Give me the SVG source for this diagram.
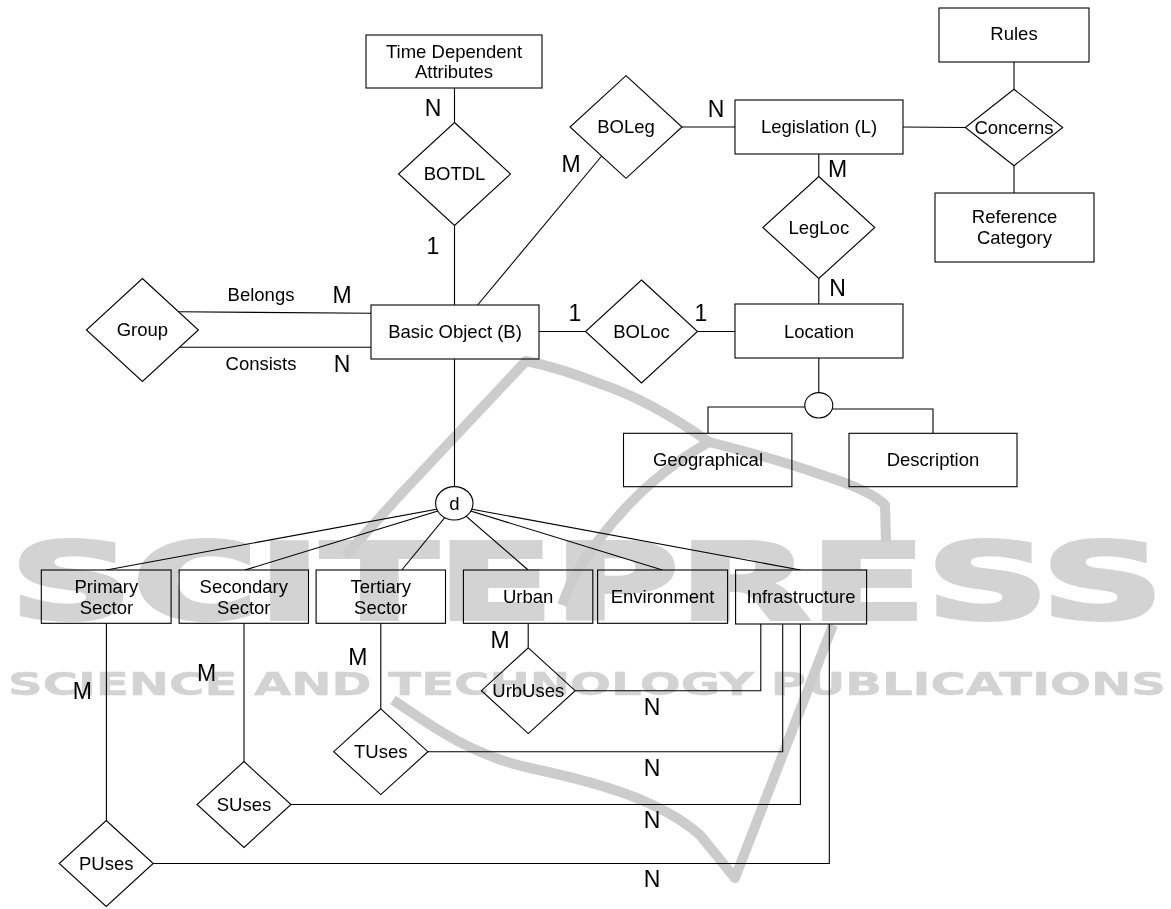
<svg xmlns="http://www.w3.org/2000/svg" width="1171" height="909" viewBox="0 0 1171 909">
<style>
  .wm { fill:#d3d3d3; stroke:#d3d3d3; font-family:"DejaVu Sans", sans-serif; font-weight:bold; }
  .sw { fill:none; stroke:#cccccc; stroke-width:10; stroke-linecap:butt; stroke-linejoin:round; }
  .shape { fill:#fff; stroke:#000; stroke-width:1.1; }
  .ln { fill:none; stroke:#000; stroke-width:1.1; }
  .t { font-family:"Liberation Sans", Arial, sans-serif; font-size:18.5px; fill:#000; text-anchor:middle; }
  .c { font-family:"Liberation Sans", Arial, sans-serif; font-size:23px; fill:#000; text-anchor:middle; }
  #watermark { mix-blend-mode:multiply; }
</style>
<rect width="1171" height="909" fill="#fff"/>
<g id="connectors">
  <line class="ln" x1="454.5" y1="88" x2="454.5" y2="122.5"/>
  <line class="ln" x1="454.5" y1="225.5" x2="454.5" y2="305"/>
  <line class="ln" x1="477.6" y1="305" x2="601.7" y2="156"/>
  <line class="ln" x1="682" y1="127" x2="735" y2="127"/>
  <line class="ln" x1="903" y1="127" x2="965.3" y2="127.5"/>
  <line class="ln" x1="1014" y1="62" x2="1014" y2="89.3"/>
  <line class="ln" x1="1014" y1="165.7" x2="1014" y2="193"/>
  <line class="ln" x1="818.8" y1="154" x2="818.8" y2="176.5"/>
  <line class="ln" x1="818.8" y1="278.5" x2="818.8" y2="304"/>
  <line class="ln" x1="539" y1="331.5" x2="585.5" y2="331.5"/>
  <line class="ln" x1="697.5" y1="331.5" x2="735" y2="331.5"/>
  <line class="ln" x1="178.5" y1="311.7" x2="371" y2="313.3"/>
  <line class="ln" x1="180" y1="347.3" x2="371" y2="347.3"/>
  <line class="ln" x1="818.8" y1="358" x2="818.8" y2="392.6"/>
  <polyline class="ln" points="806,407 708,407 708,433.3"/>
  <polyline class="ln" points="831,409 933,409 933,433.3"/>
  <line class="ln" x1="454.5" y1="359" x2="454.5" y2="486.6"/>
  <line class="ln" x1="454.3" y1="506" x2="106.4" y2="570"/>
  <line class="ln" x1="454.3" y1="506" x2="244.9" y2="570"/>
  <line class="ln" x1="454.3" y1="506" x2="401.8" y2="570"/>
  <line class="ln" x1="454.3" y1="506" x2="528.1" y2="570"/>
  <line class="ln" x1="454.3" y1="506" x2="662.4" y2="570"/>
  <line class="ln" x1="454.3" y1="506" x2="800.4" y2="570"/>
  <line class="ln" x1="106.4" y1="623.3" x2="106.4" y2="820.5"/>
  <line class="ln" x1="244" y1="623.3" x2="244" y2="761.5"/>
  <line class="ln" x1="380.8" y1="623.3" x2="380.8" y2="708.8"/>
  <line class="ln" x1="528.2" y1="623.3" x2="528.2" y2="647.8"/>
  <polyline class="ln" points="575.2,690.7 760.8,690.7 760.8,624"/>
  <polyline class="ln" points="427.9,751.7 782.7,751.7 782.7,624"/>
  <polyline class="ln" points="291,804.5 800.4,804.5 800.4,624"/>
  <polyline class="ln" points="153.2,863.5 829.3,863.5 829.3,624"/>
  <text class="t" x="261" y="300.5">Belongs</text>
  <text class="t" x="261" y="370">Consists</text>
  <text class="c" x="433" y="116">N</text>
  <text class="c" x="433" y="254">1</text>
  <text class="c" x="571" y="171.7">M</text>
  <text class="c" x="716" y="116.7">N</text>
  <text class="c" x="837.5" y="176.7">M</text>
  <text class="c" x="837.5" y="296">N</text>
  <text class="c" x="342" y="302.7">M</text>
  <text class="c" x="342" y="371.7">N</text>
  <text class="c" x="575" y="320.7">1</text>
  <text class="c" x="701" y="320.7">1</text>
  <text class="c" x="82.3" y="699.3">M</text>
  <text class="c" x="206.7" y="681">M</text>
  <text class="c" x="357.8" y="665">M</text>
  <text class="c" x="500" y="647.7">M</text>
  <text class="c" x="652" y="715">N</text>
  <text class="c" x="652" y="775.7">N</text>
  <text class="c" x="652" y="828">N</text>
  <text class="c" x="652" y="887.3">N</text>
</g>
<g id="tda"><rect class="shape" x="366" y="35" width="176" height="53"/><text class="t" x="454" y="57.5">Time Dependent</text><text class="t" x="454" y="77.5">Attributes</text></g>
<g id="botdl"><polygon class="shape" points="454.5,122.5 510.5,174 454.5,225.5 398.5,174"/><text class="t" x="454.5" y="179.5">BOTDL</text></g>
<g id="basic-object"><rect class="shape" x="371" y="305" width="168" height="54"/><text class="t" x="455" y="337.5">Basic Object (B)</text></g>
<g id="group"><polygon class="shape" points="142.4,278.5 198.4,330 142.4,381.5 86.4,330"/><text class="t" x="142.4" y="336">Group</text></g>
<g id="boleg"><polygon class="shape" points="626,75.7 682,127 626,178.3 570,127"/><text class="t" x="626" y="132.5">BOLeg</text></g>
<g id="legislation"><rect class="shape" x="735" y="100" width="168" height="54"/><text class="t" x="819" y="132.6">Legislation (L)</text></g>
<g id="rules"><rect class="shape" x="939" y="8" width="150" height="54"/><text class="t" x="1014" y="40">Rules</text></g>
<g id="concerns"><polygon class="shape" points="1014,89.3 1062.7,127.5 1014,165.7 965.3,127.5"/><text class="t" x="1014" y="134">Concerns</text></g>
<g id="reference-category"><rect class="shape" x="935" y="193" width="159" height="69"/><text class="t" x="1014.5" y="223.3">Reference</text><text class="t" x="1014.5" y="244">Category</text></g>
<g id="legloc"><polygon class="shape" points="818.8,176.5 874.8,227.5 818.8,278.5 762.8,227.5"/><text class="t" x="818.8" y="234">LegLoc</text></g>
<g id="location"><rect class="shape" x="735" y="304" width="168" height="54"/><text class="t" x="819" y="337.6">Location</text></g>
<g id="boloc"><polygon class="shape" points="641.5,280 697.5,331.5 641.5,383 585.5,331.5"/><text class="t" x="641.5" y="337.6">BOLoc</text></g>
<g id="location-isa"><ellipse class="shape" cx="818.8" cy="405.3" rx="14" ry="12.7"/></g>
<g id="geographical"><rect class="shape" x="623.5" y="433.3" width="168.4" height="53.4"/><text class="t" x="708" y="465.7">Geographical</text></g>
<g id="description"><rect class="shape" x="849" y="433.3" width="168" height="53.4"/><text class="t" x="933" y="465.7">Description</text></g>
<g id="d-isa"><ellipse class="shape" cx="454.3" cy="503.3" rx="18.7" ry="16.7"/><text class="t" x="454.3" y="510" font-size="21">d</text></g>
<g id="primary-sector"><rect class="shape" x="41.3" y="570" width="129.8" height="53.3"/><text class="t" x="106.4" y="593">Primary</text><text class="t" x="106.4" y="613.5">Sector</text></g>
<g id="secondary-sector"><rect class="shape" x="179.1" y="570" width="129.4" height="53.3"/><text class="t" x="243.8" y="593">Secondary</text><text class="t" x="243.8" y="613.5">Sector</text></g>
<g id="tertiary-sector"><rect class="shape" x="316.1" y="570" width="129.4" height="53.3"/><text class="t" x="380.8" y="593">Tertiary</text><text class="t" x="380.8" y="613.5">Sector</text></g>
<g id="urban"><rect class="shape" x="463.4" y="570" width="129.4" height="53.3"/><text class="t" x="528.1" y="603.3">Urban</text></g>
<g id="environment"><rect class="shape" x="597.6" y="570" width="130" height="53.3"/><text class="t" x="662.6" y="603.3">Environment</text></g>
<g id="infrastructure"><rect class="shape" x="735.6" y="570" width="131" height="54"/><text class="t" x="801" y="602.5">Infrastructure</text></g>
<g id="urbuses"><polygon class="shape" points="528.3,647.8 575.2,690.7 528.3,733.6 481.4,690.7"/><text class="t" x="528.3" y="696.7">UrbUses</text></g>
<g id="tuses"><polygon class="shape" points="380.8,708.8 427.9,751.7 380.8,794.6 333.7,751.7"/><text class="t" x="380.8" y="758.3">TUses</text></g>
<g id="suses"><polygon class="shape" points="244,761.5 291,804.5 244,847.5 197,804.5"/><text class="t" x="244" y="810.5">SUses</text></g>
<g id="puses"><polygon class="shape" points="106.2,820.5 153.2,863.5 106.2,906.5 59.2,863.5"/><text class="t" x="106.2" y="870">PUses</text></g>
<g id="watermark">
  <text class="wm" x="10" y="619" font-size="106" stroke-width="4" textLength="1154" lengthAdjust="spacingAndGlyphs">SCITEPRESS</text>
  <text class="wm" x="8" y="695" font-size="32" stroke-width="0.5" textLength="1158" lengthAdjust="spacingAndGlyphs">SCIENCE AND TECHNOLOGY PUBLICATIONS</text>
  <path class="sw" d="M345,556 L400,495 L526,361 Q560,368 598,383 Q650,400 709,442 Q780,460 822,475 Q870,490 885,505 L886,542"/>
  <path class="sw" d="M709,442 Q625,490 572,580 L562,605"/>
  <path class="sw" stroke-width="13" d="M393,700 C430,725 470,755 530,768 C600,783 660,800 700,835 L735,878 L833,625"/>
</g>
</svg>
